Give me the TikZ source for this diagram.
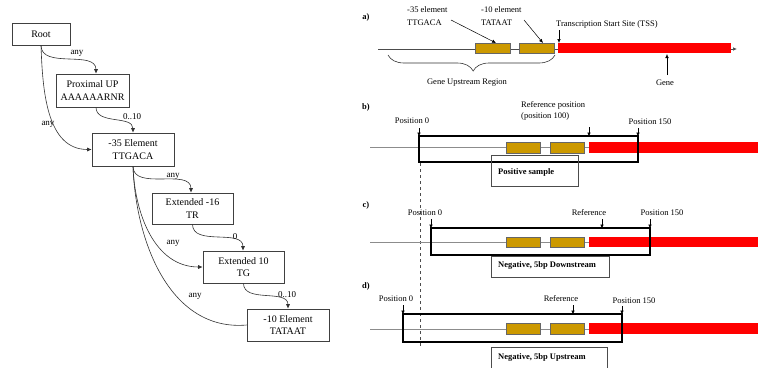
\documentclass[tikz,border=0pt]{standalone}
\usepackage{fontspec}
\setmainfont{Liberation Serif}
\usetikzlibrary{arrows.meta,decorations.pathreplacing}
\definecolor{goldc}{RGB}{204,153,0}
\definecolor{linec}{RGB}{140,140,140}
\begin{document}
\begin{tikzpicture}[x=1pt,y=-1pt,
  tbox/.style={draw=black!75, line width=0.6pt, align=center, inner sep=0pt,
    font=\fontsize{10}{12.5}\selectfont},
  elab/.style={font=\fontsize{9}{10}\selectfont, inner sep=0pt},
  tarr/.style={-{Latex[length=4.5pt,width=4pt]}, black!80, line width=0.6pt},
  tline/.style={black!80, line width=0.6pt},
  txt/.style={font=\fontsize{8.5}{11}\selectfont, inner sep=0pt},
  btxt/.style={font=\bfseries\fontsize{8.5}{11}\selectfont, inner sep=0pt},
  panel/.style={font=\bfseries\fontsize{8.5}{11}\selectfont, inner sep=0pt},
  parr/.style={-{Latex[length=4pt,width=3.5pt]}, black, line width=0.5pt},
  dna/.style={linec, line width=0.7pt},
  goldbox/.style={fill=goldc, draw=black!60, line width=0.4pt},
  redbox/.style={fill=red, draw=none},
  window/.style={draw=black, line width=1.6pt},
  lblbox/.style={draw=black!70, line width=0.6pt}
]
\useasboundingbox (0,0) rectangle (758,367);
\clip (0,0) rectangle (758,367);

% ---------------- tree ----------------
\node[tbox, minimum width=58pt, minimum height=22pt] (root) at (41,34) {Root};
\node[tbox, minimum width=73pt, minimum height=33pt] (prox) at (92.5,90.5) {Proximal UP\\AAAAAARNR};
\node[tbox, minimum width=82pt, minimum height=33pt] (e35) at (133,149.5) {-35 Element\\TTGACA};
\node[tbox, minimum width=81pt, minimum height=31pt] (x16) at (192.5,208.5) {Extended -16\\TR};
\node[tbox, minimum width=81pt, minimum height=32pt] (x10) at (243.5,267) {Extended 10\\TG};
\node[tbox, minimum width=82pt, minimum height=32pt] (e10) at (288,325) {-10 Element\\TATAAT};

\draw[tarr] (root.south) to[out=-90,in=90] ([xshift=3.5pt]prox.north);
\draw[tarr] (root.south) to[out=-88,in=180] (e35.west);
\draw[tarr] ([xshift=3.5pt]prox.south) to[out=-90,in=90] (e35.north);
\draw[tarr] (e35.south) to[out=-90,in=90] ([xshift=-1.5pt]x16.north);
\draw[tarr] (e35.south) to[out=-88,in=180] (x10.west);
\draw[tarr] (x16.south) to[out=-90,in=90] ([xshift=-0.5pt]x10.north);
\draw[tarr] (x10.south) to[out=-90,in=90] (e10.north);
\draw[tline] (e35.south) to[out=-88,in=185] (e10.west);

\node[elab] (l1) at (77,53) {any};
\node[elab] (l2) at (48,124) {any};
\node[elab] (l3) at (132,117) {0..10};
\node[elab] (l4) at (173,176) {any};
\node[elab] (l5) at (173,243) {any};
\node[elab] (l6) at (235,237) {0};
\node[elab] (l7) at (287,295) {0..10};
\node[elab] (l8) at (195,296) {any};

% ---------------- panel a ----------------
\node[panel] (pa) at (366,17) {a)};
\draw[dna, -{Latex[length=4pt,width=3.5pt]}, black!70] (378,49) -- (737,49);
\draw[goldbox] (475,43) rectangle (510,53);
\draw[goldbox] (519,43) rectangle (554,53);
\draw[redbox] (558,43) rectangle (731,53);
\node[txt, anchor=west] (t35a) at (407,10) {-35 element};
\node[txt, anchor=west] (t35b) at (407,23) {TTGACA};
\node[txt, anchor=west] (t10a) at (481,10) {-10 element};
\node[txt, anchor=west] (t10b) at (481,23) {TATAAT};
\node[txt, anchor=west] (tss) at (556,24) {Transcription Start Site (TSS)};
\draw[parr] (451,20) -- (496,43);
\draw[parr] (524,20) -- (543,43);
\draw[parr] (559,30) -- (559,43);
\draw[black!80, line width=0.6pt, decorate, decoration={brace, mirror, amplitude=16pt, aspect=0.51}] (388,55) -- (555,55);
\node[txt] (gur) at (467,83) {Gene Upstream Region};
\node[txt] (gene) at (665,83) {Gene};
\draw[parr] (667,75) -- (667,54);

% ---------------- panel b ----------------
\node[panel] (pb) at (366,107) {b)};
\draw[dna] (370,147) -- (758,147);
\draw[goldbox] (506,142) rectangle (540,153);
\draw[goldbox] (550,142) rectangle (584,153);
\draw[redbox] (589,142) rectangle (758,153);
\draw[window] (419,136) rectangle (638,162);
\draw[lblbox] (491,155) rectangle (578,186);
\node[btxt, anchor=west] (pos) at (498,172) {Positive sample};
\node[txt] (b0) at (412,121) {Position 0};
\node[txt, anchor=west] (bref1) at (521,105) {Reference position};
\node[txt, anchor=west] (bref2) at (521,116) {(position 100)};
\node[txt] (b150) at (650,122) {Position 150};
\draw[parr] (419,128) -- (419,136.5);
\draw[parr] (589,127) -- (589,136.5);
\draw[parr] (638,128) -- (638,136.5);
\draw[black!70, line width=0.6pt, dashed] (420,163) -- (420,347);

% ---------------- panel c ----------------
\node[panel] (pc) at (366,205) {c)};
\draw[dna] (370,242) -- (758,242);
\draw[goldbox] (506,237) rectangle (540,247);
\draw[goldbox] (550,237) rectangle (584,247);
\draw[redbox] (589,237) rectangle (758,247);
\draw[window] (431,228) rectangle (650,255);
\draw[lblbox] (491,256) rectangle (609,277);
\node[btxt, anchor=west] (neg1) at (498,265) {Negative, 5bp Downstream};
\node[txt] (c0) at (425,213) {Position 0};
\node[txt] (cref) at (589,213) {Reference};
\node[txt] (c150) at (662,213) {Position 150};
\draw[parr] (431,219) -- (431,228.5);
\draw[parr] (602,219) -- (602,228.5);
\draw[parr] (650,219) -- (650,228.5);

% ---------------- panel d ----------------
\node[panel] (pd) at (366,286) {d)};
\draw[dna] (370,329) -- (758,329);
\draw[goldbox] (506,323) rectangle (540,334);
\draw[goldbox] (550,323) rectangle (584,334);
\draw[redbox] (589,323) rectangle (758,334);
\draw[window] (403,314) rectangle (622,342);
\draw[lblbox] (491,347) rectangle (607,372);
\node[btxt, anchor=west] (neg2) at (498,357) {Negative, 5bp Upstream};
\node[txt] (d0) at (396,299) {Position 0};
\node[txt] (dref) at (561,299) {Reference};
\node[txt] (d150) at (634,301) {Position 150};
\draw[parr] (403,305) -- (403,314.5);
\draw[parr] (573,305) -- (573,314.5);
\draw[parr] (622,306) -- (622,314.5);
\end{tikzpicture}
\end{document}
